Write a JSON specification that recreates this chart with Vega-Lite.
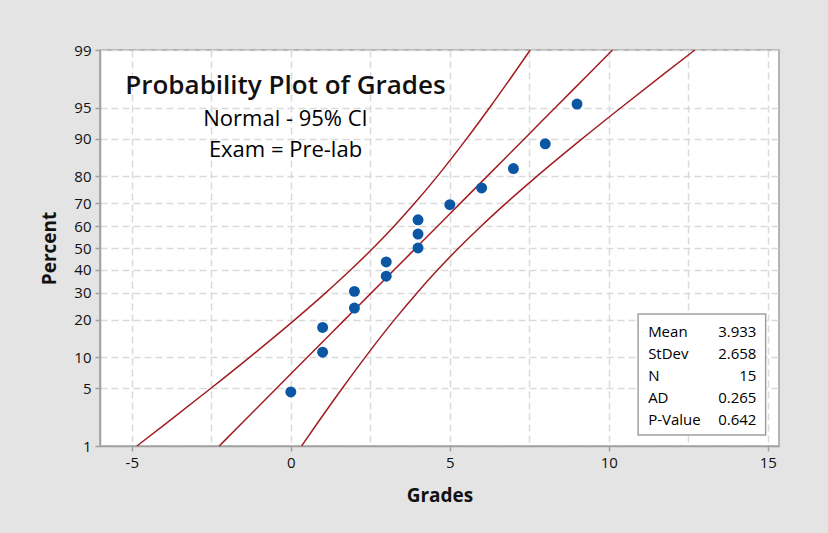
{
  "$schema": "https://vega.github.io/schema/vega-lite/v6.json",
  "width": 679,
  "height": 396,
  "autosize": {"type": "none"},
  "padding": {"left": 100, "top": 50, "right": 49, "bottom": 87},
  "background": "#e4e4e4",
  "config": {
    "font": "Open Sans",
    "view": {"fill": "white", "stroke": "#a0a0a0", "strokeWidth": 1.5},
    "axis": {
      "labelFont": "Open Sans",
      "labelFontSize": 15,
      "labelFontWeight": 500,
      "labelColor": "#111111",
      "tickColor": "#a0a0a0",
      "tickSize": 5,
      "tickWidth": 1.5,
      "domainColor": "#a0a0a0",
      "domainWidth": 1.5,
      "gridColor": "#dadada",
      "gridDash": [7, 4],
      "gridWidth": 1.5,
      "titleFont": "Open Sans",
      "titleFontSize": 19,
      "titleFontWeight": "bold",
      "titleColor": "#111111"
    }
  },
  "title": {
    "text": "Probability Plot of Grades",
    "subtitle": ["Normal - 95% CI", "Exam = Pre-lab"],
    "orient": "top",
    "anchor": "middle",
    "frame": "group",
    "font": "Open Sans",
    "fontSize": 26,
    "lineHeight": 26,
    "fontWeight": 600,
    "color": "#111111",
    "subtitleFont": "Open Sans",
    "subtitleFontSize": 22,
    "subtitleFontWeight": "normal",
    "subtitleColor": "#000000",
    "subtitleLineHeight": 31,
    "subtitlePadding": 10,
    "offset": 0,
    "dx": -154,
    "dy": 118
  },
  "datasets": {
    "grades": [
      {"grade": 0, "pct": 4.545},
      {"grade": 1, "pct": 11.039},
      {"grade": 1, "pct": 17.532},
      {"grade": 2, "pct": 24.026},
      {"grade": 2, "pct": 30.519},
      {"grade": 3, "pct": 37.013},
      {"grade": 3, "pct": 43.506},
      {"grade": 4, "pct": 50.0},
      {"grade": 4, "pct": 56.494},
      {"grade": 4, "pct": 62.987},
      {"grade": 5, "pct": 69.481},
      {"grade": 6, "pct": 75.974},
      {"grade": 7, "pct": 82.468},
      {"grade": 8, "pct": 88.961},
      {"grade": 9, "pct": 95.455}
    ],
    "fit": [
      {"pct": 1, "lower": -4.840, "fit": -2.250, "upper": 0.339},
      {"pct": 2, "lower": -3.898, "fit": -1.526, "upper": 0.846},
      {"pct": 5, "lower": -2.502, "fit": -0.439, "upper": 1.624},
      {"pct": 10, "lower": -1.289, "fit": 0.527, "upper": 2.342},
      {"pct": 20, "lower": 0.131, "fit": 1.696, "upper": 3.261},
      {"pct": 30, "lower": 1.104, "fit": 2.539, "upper": 3.974},
      {"pct": 40, "lower": 1.893, "fit": 3.260, "upper": 4.626},
      {"pct": 50, "lower": 2.588, "fit": 3.933, "upper": 5.278},
      {"pct": 60, "lower": 3.240, "fit": 4.606, "upper": 5.973},
      {"pct": 70, "lower": 3.892, "fit": 5.327, "upper": 6.762},
      {"pct": 80, "lower": 4.605, "fit": 6.170, "upper": 7.735},
      {"pct": 90, "lower": 5.524, "fit": 7.340, "upper": 9.155},
      {"pct": 95, "lower": 6.242, "fit": 8.305, "upper": 10.368},
      {"pct": 98, "lower": 7.020, "fit": 9.392, "upper": 11.764},
      {"pct": 99, "lower": 7.527, "fit": 10.116, "upper": 12.706}
    ],
    "stats": [
      {"stat": "Mean", "value": "3.933"},
      {"stat": "StDev", "value": "2.658"},
      {"stat": "N", "value": "15"},
      {"stat": "AD", "value": "0.265"},
      {"stat": "P-Value", "value": "0.642"}
    ]
  },
  "resolve": {"scale": {"y": "independent"}},
  "layer": [
    {
      "encoding": {
        "x": {
          "type": "quantitative",
          "title": "Grades",
          "scale": {"domain": [-6, 15.35], "nice": false, "zero": false},
          "axis": {
            "values": [-5, -2.5, 0, 2.5, 5, 7.5, 10, 12.5, 15],
            "labelExpr": "datum.value % 5 == 0 ? '' + datum.value : ''",
            "tickOpacity": {"condition": {"test": "datum.value % 5 != 0", "value": 0}, "value": 1},
            "labelPadding": 4,
            "titlePadding": 16
          }
        },
        "y": {
          "type": "quantitative",
          "title": "Percent",
          "scale": {"domain": [-2.3263, 2.3263], "nice": false, "zero": false},
          "axis": {
            "values": [-2.3263, -1.6449, -1.2816, -0.8416, -0.5244, -0.2533, 0, 0.2533, 0.5244, 0.8416, 1.2816, 1.6449, 2.3263],
            "labelExpr": "'' + round(cumulativeNormal(datum.value) * 100)",
            "labelPadding": 4,
            "titlePadding": 14
          }
        }
      },
      "layer": [
        {
          "data": {"name": "fit"},
          "transform": [{"calculate": "quantileNormal(datum.pct / 100)", "as": "z"}],
          "mark": {"type": "line", "color": "#a11d21", "strokeWidth": 1.5, "interpolate": "monotone"},
          "encoding": {"x": {"field": "lower"}, "y": {"field": "z"}}
        },
        {
          "data": {"name": "fit"},
          "transform": [{"calculate": "quantileNormal(datum.pct / 100)", "as": "z"}],
          "mark": {"type": "line", "color": "#a11d21", "strokeWidth": 1.5, "interpolate": "monotone"},
          "encoding": {"x": {"field": "fit"}, "y": {"field": "z"}}
        },
        {
          "data": {"name": "fit"},
          "transform": [{"calculate": "quantileNormal(datum.pct / 100)", "as": "z"}],
          "mark": {"type": "line", "color": "#a11d21", "strokeWidth": 1.5, "interpolate": "monotone"},
          "encoding": {"x": {"field": "upper"}, "y": {"field": "z"}}
        },
        {
          "data": {"name": "grades"},
          "transform": [{"calculate": "quantileNormal(datum.pct / 100)", "as": "z"}],
          "mark": {"type": "circle", "color": "#0b57a4", "opacity": 1, "size": 120},
          "encoding": {"x": {"field": "grade"}, "y": {"field": "z"}}
        },
        {
          "data": {"values": [{}]},
          "mark": {"type": "rect", "fill": "white", "stroke": "#a0a0a0", "strokeWidth": 1.5},
          "encoding": {
            "x": {"datum": 10.92},
            "x2": {"datum": 14.93},
            "y": {"datum": -0.776},
            "y2": {"datum": -2.198}
          }
        }
      ]
    },
    {
      "data": {"name": "stats"},
      "transform": [{"window": [{"op": "row_number", "as": "row"}]}],
      "encoding": {
        "y": {
          "field": "row",
          "type": "quantitative",
          "axis": null,
          "scale": {"domain": [-11.873, 6.184], "reverse": true, "nice": false, "zero": false}
        }
      },
      "layer": [
        {
          "mark": {"type": "text", "align": "left", "baseline": "middle", "fontSize": 15, "fontWeight": 500, "font": "Open Sans", "color": "#000000"},
          "encoding": {"x": {"datum": 11.235}, "text": {"field": "stat"}}
        },
        {
          "mark": {"type": "text", "align": "right", "baseline": "middle", "fontSize": 15, "fontWeight": 500, "font": "Open Sans", "color": "#000000"},
          "encoding": {"x": {"datum": 14.64}, "text": {"field": "value"}}
        }
      ]
    }
  ]
}
